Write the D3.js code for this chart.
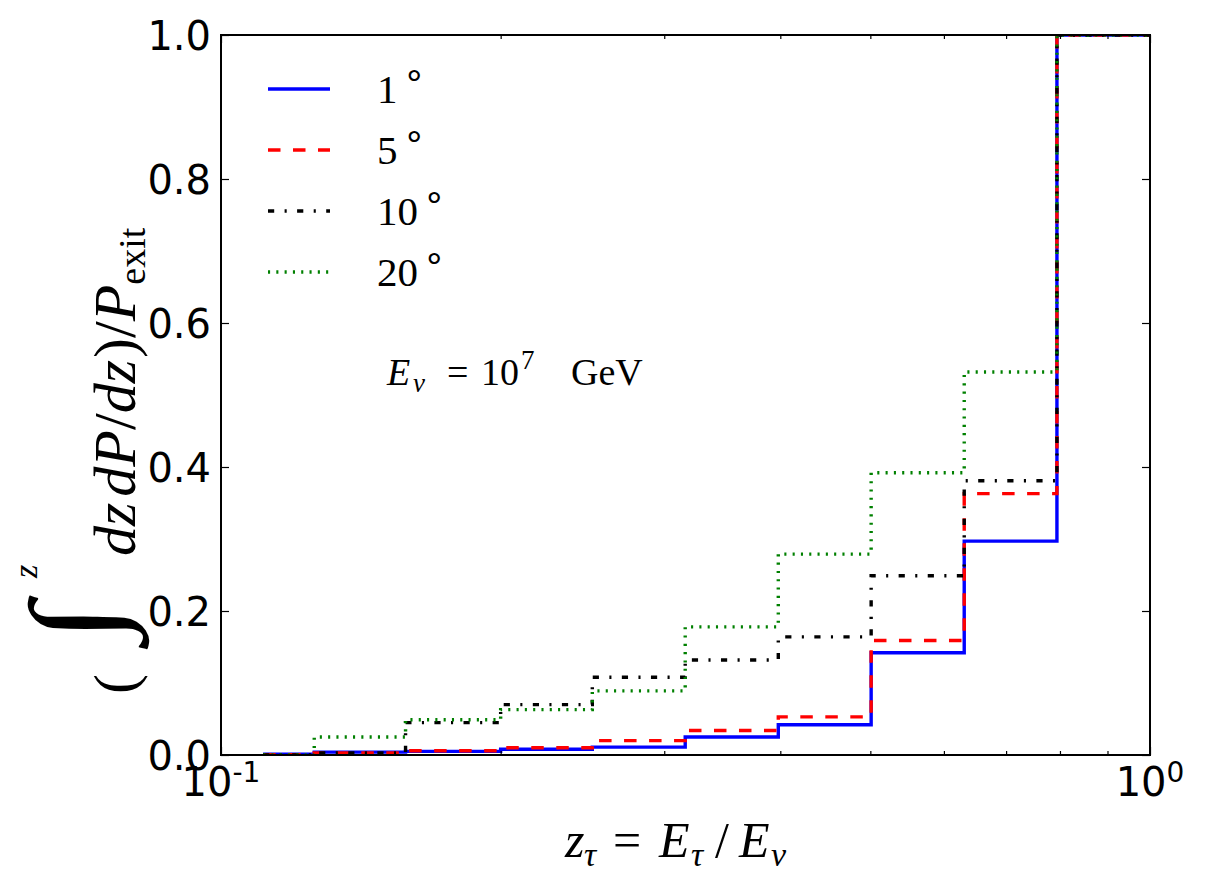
<!DOCTYPE html>
<html>
<head>
<meta charset="utf-8">
<script src="https://cdnjs.cloudflare.com/ajax/libs/d3/7.8.5/d3.min.js"></script>
<style>
  body { margin: 0; background: #fff; }
  .tick text { font-family: "DejaVu Sans", sans-serif; }
  .math { font-family: "Liberation Serif", serif; }
</style>
</head>
<body>
<div id="chart"></div>
<script>
// bin edges in z (log spaced), values are cumulative fractions per bin
var binEdges = [0.111, 0.126, 0.158, 0.200, 0.251, 0.316, 0.398, 0.501, 0.631, 0.794, 1.0];
var angles = ["1", "5", "10", "20"];
var cum1 = [0.001, 0.004, 0.005, 0.008, 0.011, 0.025, 0.042, 0.142, 0.297, 1.0];
var cum5 = [0.0005, 0.003, 0.006, 0.010, 0.020, 0.034, 0.053, 0.159, 0.363, 1.0];
var cum10 = [0.0, 0.003, 0.045, 0.070, 0.108, 0.132, 0.164, 0.249, 0.381, 1.0];
var cum20 = [0.0, 0.025, 0.049, 0.063, 0.089, 0.178, 0.279, 0.392, 0.532, 1.0];
var yTicks = [0, 0.2, 0.4, 0.6, 0.8, 1.0];
var xMajor = [0.1, 1];
var xMinor = [0.2, 0.3, 0.4, 0.5, 0.6, 0.7, 0.8, 0.9];

var series = [
  { name: angles[0], values: cum1, color: "#0000ff", dash: null },
  { name: angles[1], values: cum5, color: "#ff0000", dash: "12.5,12.5" },
  { name: angles[2], values: cum10, color: "#000000", dash: "6.2,10.4,2.1,10.4" },
  { name: angles[3], values: cum20, color: "#008000", dash: "2.1,6.2" }
];

var W = 1206, H = 883;
var margin = { top: 35, right: 56, bottom: 128, left: 221 },
    width = W - margin.left - margin.right,
    height = H - margin.top - margin.bottom;

var svg = d3.select("#chart")
    .append("svg")
    .attr("width", W)
    .attr("height", H)
    .append("g")
    .attr("transform", "translate(" + margin.left + "," + margin.top + ")");

var x = d3.scaleLog().domain([0.1, 1]).range([0, width]);
var y = d3.scaleLinear().domain([0, 1]).range([height, 0]);

svg.append("clipPath").attr("id", "clip")
    .append("rect").attr("width", width).attr("height", height);

// step lines
var line = d3.line()
    .x(function (d) { return x(d[0]); })
    .y(function (d) { return y(d[1]); })
    .curve(d3.curveStepAfter);

series.forEach(function (s) {
    var pts = binEdges.map(function (e, i) {
        return [e, s.values[Math.min(i, s.values.length - 1)]];
    });
    svg.append("path")
        .datum(pts)
        .attr("clip-path", "url(#clip)")
        .attr("fill", "none")
        .attr("stroke", s.color)
        .attr("stroke-width", 3.4)
        .attr("stroke-dasharray", s.dash)
        .attr("d", line);
});

// axes, ticks pointing inward
var yAxis = svg.append("g")
    .call(d3.axisLeft(y).tickValues(yTicks).tickSize(-8).tickPadding(10)
        .tickFormat(d3.format(".1f")));
yAxis.selectAll("text").style("font-size", "40px").attr("dy", "0.36em");

svg.append("g")
    .attr("transform", "translate(" + width + ",0)")
    .call(d3.axisRight(y).tickValues(yTicks).tickSize(-8).tickFormat(""));

[[0, d3.axisBottom, height], [1, d3.axisTop, 0]].forEach(function (a) {
    svg.append("g")
        .attr("transform", "translate(0," + a[2] + ")")
        .call(a[1](x).tickValues(xMajor).tickSize(-8).tickFormat(""));
    svg.append("g")
        .attr("transform", "translate(0," + a[2] + ")")
        .call(a[1](x).tickValues(xMinor).tickSize(-4).tickFormat(""));
});
svg.selectAll(".domain").remove();
svg.selectAll(".tick line").attr("stroke", "#000").attr("stroke-width", 1.2);

// x tick labels as powers of ten
xMajor.forEach(function (v) {
    var t = svg.append("text")
        .attr("x", x(v))
        .attr("y", height + 41)
        .attr("text-anchor", "middle")
        .style("font-family", "DejaVu Sans, sans-serif")
        .style("font-size", "40px");
    t.append("tspan").text("10");
    t.append("tspan").attr("dy", -14).style("font-size", "28px").text(Math.round(Math.log10(v)));
});

// frame
svg.append("rect")
    .attr("width", width)
    .attr("height", height)
    .attr("fill", "none")
    .attr("stroke", "#000")
    .attr("stroke-width", 2);

// legend
series.forEach(function (s, i) {
    var ly = 54 + i * 61;
    svg.append("line")
        .attr("x1", 47).attr("x2", 109)
        .attr("y1", ly).attr("y2", ly)
        .attr("stroke", s.color)
        .attr("stroke-width", 3.4)
        .attr("stroke-dasharray", s.dash);
    var t = svg.append("text")
        .attr("class", "math")
        .attr("x", 156)
        .attr("y", ly + 14)
        .style("font-size", "41px");
    t.append("tspan").text(s.name);
    t.append("tspan").attr("dx", 5).attr("dy", -17).style("font-size", "36px").text("\u2218");
});

// energy annotation
var ann = svg.append("text")
    .attr("class", "math")
    .attr("y", 350)
    .style("font-size", "38px");
ann.append("tspan").attr("x", 166).style("font-style", "italic").text("E");
ann.append("tspan").attr("x", 192).attr("dy", 7).style("font-size", "27px").style("font-style", "italic").text("\u03bd");
ann.append("tspan").attr("x", 226).attr("dy", -7).text("=");
ann.append("tspan").attr("x", 260).text("10");
ann.append("tspan").attr("x", 300).attr("dy", -16).style("font-size", "27px").text("7");
ann.append("tspan").attr("x", 350).attr("dy", 16).text("GeV");

// x label
var xl = svg.append("text")
    .attr("class", "math")
    .attr("y", height + 102)
    .style("font-size", "50px");
xl.append("tspan").attr("x", 344).style("font-style", "italic").text("z");
xl.append("tspan").attr("x", 363).attr("dy", 9).style("font-size", "34px").style("font-style", "italic").text("\u03c4");
xl.append("tspan").attr("x", 392).attr("dy", -9).text("=");
xl.append("tspan").attr("x", 438).style("font-style", "italic").text("E");
xl.append("tspan").attr("x", 470).attr("dy", 9).style("font-size", "34px").style("font-style", "italic").text("\u03c4");
xl.append("tspan").attr("x", 494).attr("dy", -9).text("/");
xl.append("tspan").attr("x", 518).style("font-style", "italic").text("E");
xl.append("tspan").attr("x", 550).attr("dy", 9).style("font-size", "34px").style("font-style", "italic").text("\u03bd");

// y label, rotated; pieces placed along the text direction
var yl = svg.append("g")
    .attr("class", "math")
    .attr("transform", "translate(" + (-86) + "," + (height / 2 + 303) + ") rotate(-90)");
yl.append("text").attr("x", 4).attr("y", 0).style("font-size", "60px").text("(");
yl.append("text").attr("transform", "translate(56,-19) scale(1.15,1)")
    .style("font-size", "124px").text("\u222b");
yl.append("text").attr("x", 120).attr("y", -98).style("font-size", "34px").style("font-style", "italic").text("z");
var yt = yl.append("text").attr("x", 142).attr("y", 0).style("font-size", "60px");
yt.append("tspan").style("font-style", "italic").text("dz");
yt.append("tspan").attr("dx", 6).style("font-style", "italic").text("dP");
yt.append("tspan").text("/");
yt.append("tspan").style("font-style", "italic").text("dz");
yt.append("tspan").attr("dx", 2).text(")/");
yt.append("tspan").style("font-style", "italic").text("P");
yt.append("tspan").attr("dy", 10).style("font-size", "38px").text("exit");
</script>
</body>
</html>
